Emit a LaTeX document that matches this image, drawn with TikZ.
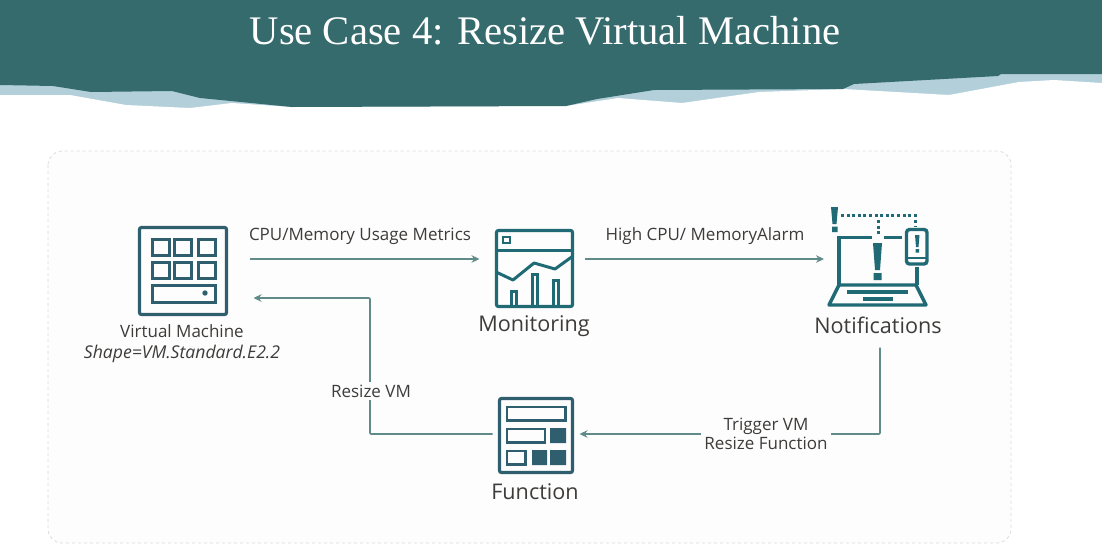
\documentclass[tikz,border=0pt]{standalone}
\usepackage{fontspec}
\setmainfont{Open Sans}
\newfontfamily\titlefont{Liberation Serif}
\usetikzlibrary{arrows.meta}
\definecolor{bannerteal}{HTML}{356B6D}
\definecolor{bannerblue}{HTML}{B3D0DA}
\definecolor{panelfill}{HTML}{FDFDFD}
\definecolor{paneledge}{HTML}{DADAD8}
\definecolor{vmblue}{HTML}{2F5F6E}
\definecolor{iconteal}{HTML}{1F6A75}
\definecolor{flowgreen}{HTML}{5F8B88}
\definecolor{labelgrey}{HTML}{3E3C3A}
\tikzset{
	iconbox/.style={draw=#1,line width=3.2pt,rounded corners=2pt,inner sep=0pt,outer sep=0pt},
	flow/.style={draw=flowgreen,line width=1.7pt,-{Stealth[length=8pt,width=7.5pt]}},
	smalltxt/.style={text=labelgrey,font=\fontsize{17}{19}\selectfont,align=center,inner sep=1pt},
	bigtxt/.style={text=labelgrey,font=\fontsize{21.6}{24}\selectfont,inner sep=0pt},
	gaptxt/.style={smalltxt,fill=panelfill,inner sep=3pt}
}
\begin{document}
\begin{tikzpicture}[x=1pt,y=-1pt]
	\useasboundingbox (0,0) rectangle (1102,555);
	% banner
	\fill[bannerblue] (0,0) rectangle (1102,110);
	\fill[white] (0,95) -- (70,95) -- (126,105) -- (190,108) -- (232,103) -- (292,107) -- (566,106) -- (618,98) -- (682,103) -- (759,92) -- (843,89) -- (949,95) -- (1019,82) -- (1054,80) -- (1102,83) -- (1102,130) -- (0,130) -- cycle;
	\fill[bannerteal] (0,0) -- (1102,0) -- (1102,74) -- (1001,74) -- (998,76) -- (854,84) -- (843,89) -- (654,90) -- (597,99) -- (566,106) -- (292,107) -- (200,98) -- (172,91) -- (91,92) -- (53,86) -- (0,85) -- cycle;
	\node[text=white,font=\titlefont\fontsize{40.6}{44}\selectfont,inner sep=0pt] (title) at (545,31) {Use Case 4: Resize Virtual Machine};
	% panel
	\draw[draw=paneledge,fill=panelfill,dashed,line width=0.8pt,rounded corners=14pt] (48,151) rectangle (1011,543);

	% virtual machine
	\node[iconbox=vmblue,minimum width=87pt,minimum height=87pt] (vm) at (183,271) {};
	\foreach \cx in {160.5,183,206.5}
		\foreach \cy in {247.5,270}
			\draw[draw=vmblue,line width=3pt] (\cx-8.5,\cy-8) rectangle (\cx+8.5,\cy+8);
	\draw[draw=vmblue,line width=3pt] (152,285) rectangle (215,302);
	\fill[vmblue] (205,293) circle (2.7pt);
	\node[smalltxt] (vmtxt) at (182,344) {Virtual Machine\\[2pt]{\fontsize{17.6}{19}\selectfont\textit{Shape=VM.Standard.E2.2}}};

	% monitoring
	\node[iconbox=iconteal,minimum width=76pt,minimum height=76pt] (mon) at (534.5,268.5) {};
	\begin{scope}[draw=iconteal,line width=3pt]
		\draw (496,250) -- (573,250);
		\draw[line width=2.4pt] (503,237) rectangle (510,243);
		\draw[line join=round] (496,272) -- (513,280) -- (534,263) -- (555,269) -- (573,256);
		\draw (511,307) |- (516.5,291) -- (516.5,307);
		\draw (532,307) |- (537.5,274.5) -- (537.5,307);
		\draw (553,307) |- (558.5,280) -- (558.5,307);
	\end{scope}
	\node[bigtxt] (montxt) at (534,326.5) {Monitoring};

	% notifications
	\coordinate (notif) at (878,270);
	\begin{scope}[draw=iconteal,line width=3.4pt]
		\draw (839,285) -- (839,237.5) -- (872,237.5) (884,237.5) -- (902,237.5);
		\draw (917,267) -- (917,285);
		\draw[line join=round,fill=panelfill] (839,285) -- (916,285) -- (926,305) -- (829,305) -- cycle;
		\draw (847,292) -- (908,292);
		\draw (863,299) -- (893,299);
		\draw[rounded corners=3pt,fill=panelfill] (906.5,229.5) rectangle (927,264);
		\draw[line width=2.4pt] (906.5,258) -- (927,258);
		\draw[line width=3pt,dash pattern=on 3pt off 2.6pt] (841,215) -- (917,215);
		\draw[line width=3pt,dash pattern=on 3pt off 2.6pt] (878,220) -- (878,236);
		\draw[line width=3pt,dash pattern=on 3pt off 2.6pt] (915,220) -- (915,227);
	\end{scope}
	\fill[iconteal] (873,243) -- (882,243) -- (880,270) -- (875,270) -- cycle (873.5,273) rectangle (881.5,280);
	\fill[iconteal] (831,207) -- (838,207) -- (836.5,224) -- (832.5,224) -- cycle (832,226.5) rectangle (837.5,232);
	\fill[iconteal] (915,235) -- (919.5,235) -- (918.5,247) -- (916,247) -- cycle (915.5,249) rectangle (919,252.5);
	\node[bigtxt] (notiftxt) at (878,325) {Notifications};

	% function
	\node[iconbox=vmblue,minimum width=73pt,minimum height=74pt] (func) at (536,435.5) {};
	\begin{scope}[draw=vmblue,line width=2.8pt]
		\draw (507,407) rectangle (565.5,420.5);
		\draw (507,429) rectangle (545,442.5);
		\draw (507,451) rectangle (525.5,464.5);
	\end{scope}
	\fill[vmblue] (550,428) rectangle (566,443) (532,450) rectangle (547,465) (550,450) rectangle (566,465);
	\node[bigtxt] (functxt) at (535,492) {Function};

	% connector labels
	\node[smalltxt] (metrics) at (360,236.5) {CPU/Memory Usage Metrics};
	\node[smalltxt] (alarm) at (705,236.5) {High CPU/ MemoryAlarm};

	% connectors
	\draw[flow,shorten <=23pt,shorten >=17pt] ([yshift=12pt]vm.east) -- ([yshift=12pt]vm.east -| mon.west);
	\draw[flow,shorten <=12pt,shorten >=54pt] ([yshift=9.5pt]mon.east) -- ([yshift=9.5pt]mon.east -| notif);
	\draw[flow,rounded corners=1pt,shorten <=14pt,shorten >=7pt] (notiftxt.south -| 880,0) |- ([yshift=1.5pt]func.east);
	\draw[flow,rounded corners=1pt,shorten <=7pt,shorten >=27pt] ([yshift=1.5pt]func.west) -| (370,298) -- ([yshift=-27pt]vm.east);
	\node[gaptxt] (trigger) at (766,433.5) {Trigger VM\\Resize Function};
	\node[gaptxt] (resize) at (371,391) {Resize VM};
\end{tikzpicture}
\end{document}
